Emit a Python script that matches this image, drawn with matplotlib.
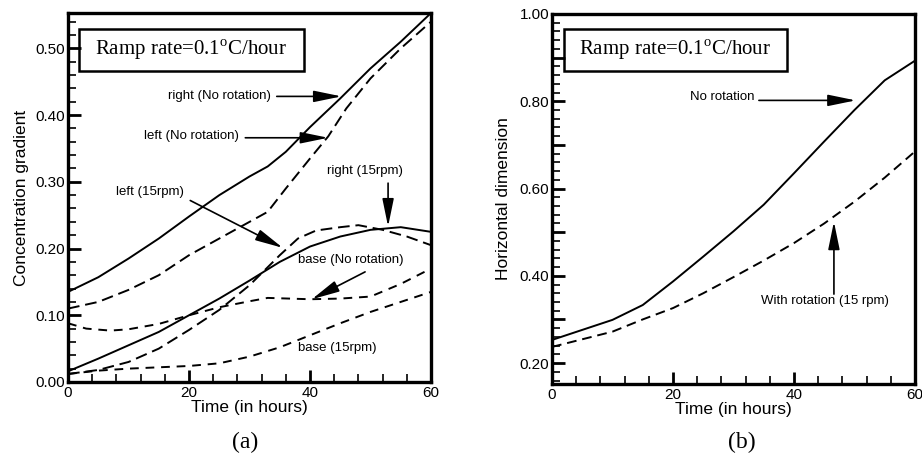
import numpy as np
import matplotlib
matplotlib.use('Agg')
import matplotlib.pyplot as plt
from matplotlib.patches import Rectangle
from matplotlib.ticker import MultipleLocator, FuncFormatter

plt.rcParams['font.family'] = ['Liberation Sans', 'DejaVu Sans']
plt.rcParams['mathtext.fontset'] = 'custom'
plt.rcParams['mathtext.rm'] = 'Liberation Serif'

# (a) concentration gradient vs time
t_right_nr = [0, 5, 10, 15, 20, 25, 30, 33, 36, 40, 45, 50, 55, 60]
c_right_nr = [0.135, 0.157, 0.185, 0.215, 0.248, 0.28, 0.308, 0.323, 0.345, 0.382, 0.425, 0.47, 0.51, 0.553]

t_left_nr = [0, 5, 10, 15, 20, 25, 30, 33, 36, 40, 43, 46, 50, 55, 60]
c_left_nr = [0.11, 0.12, 0.138, 0.16, 0.19, 0.215, 0.24, 0.255, 0.29, 0.335, 0.368, 0.41, 0.455, 0.5, 0.54]

t_right_15 = [0, 5, 10, 15, 20, 25, 30, 35, 40, 45, 50, 55, 60]
c_right_15 = [0.016, 0.035, 0.055, 0.075, 0.1, 0.125, 0.152, 0.18, 0.203, 0.218, 0.228, 0.232, 0.225]

t_left_15 = [0, 5, 10, 15, 20, 25, 30, 35, 38, 41, 45, 48, 52, 56, 60]
c_left_15 = [0.012, 0.018, 0.03, 0.05, 0.078, 0.108, 0.145, 0.19, 0.215, 0.227, 0.232, 0.235, 0.228, 0.218, 0.205]

t_base_nr = [0, 3, 7, 10, 15, 20, 25, 30, 33, 40, 45, 50, 55, 60]
c_base_nr = [0.088, 0.08, 0.077, 0.079, 0.087, 0.1, 0.112, 0.121, 0.126, 0.124, 0.125, 0.128, 0.147, 0.17]

t_base_15 = [0, 5, 10, 15, 20, 25, 30, 35, 40, 45, 50, 55, 60]
c_base_15 = [0.012, 0.017, 0.02, 0.022, 0.024, 0.028, 0.038, 0.052, 0.07, 0.088, 0.105, 0.12, 0.135]

# (b) horizontal dimension vs time
t_dim = [0, 10, 15, 20, 25, 30, 35, 40, 45, 50, 55, 60]
d_no_rot = [0.253, 0.299, 0.333, 0.387, 0.444, 0.502, 0.563, 0.635, 0.708, 0.78, 0.848, 0.893]
d_rot = [0.237, 0.272, 0.300, 0.326, 0.360, 0.397, 0.435, 0.475, 0.52, 0.57, 0.625, 0.685]

ramp_text = r'Ramp rate=0.1$^\mathrm{o}$C/hour'

fig = plt.figure(figsize=(9.22, 4.59), dpi=100)
ax1 = fig.add_axes([0.0738, 0.1678, 0.3937, 0.8039])
ax2 = fig.add_axes([0.5987, 0.1634, 0.3937, 0.8061])

lw = 1.4
arrow = dict(arrowstyle='-|>,head_length=1.7,head_width=0.35', color='black',
             lw=1.2, mutation_scale=10, shrinkA=0, shrinkB=0)


def style_axes(ax, ymin, ymax, ymajor, label_every):
    ax.set_xlim(0, 60)
    ax.set_ylim(ymin, ymax)
    ax.xaxis.set_major_locator(MultipleLocator(20))
    ax.xaxis.set_minor_locator(MultipleLocator(4))
    ax.yaxis.set_major_locator(MultipleLocator(ymajor))
    ax.yaxis.set_minor_locator(MultipleLocator(0.02))
    ax.yaxis.set_major_formatter(FuncFormatter(
        lambda v, p: f'{v:.2f}' if abs(round(v / label_every) * label_every - v) < 1e-6 else ''))
    ax.tick_params(which='both', direction='in', labelsize=11, pad=2)
    ax.tick_params(which='major', length=9, width=2)
    ax.tick_params(which='minor', length=6, width=1.2)
    ax.tick_params(axis='x', which='major', pad=3)
    for s in ax.spines.values():
        s.set_linewidth(2.4)
    ax.set_xlabel('Time (in hours)', fontsize=12.5, labelpad=0)


def ramp_box(ax, x0, y0, x1, y1):
    ax.add_patch(Rectangle((x0, y0), x1 - x0, y1 - y0, transform=ax.transAxes,
                           fill=False, lw=1.8, ec='black', zorder=5))
    ax.text((x0 + x1) / 2, (y0 + y1) / 2, ramp_text, transform=ax.transAxes,
            ha='center', va='center', fontsize=15, family='Liberation Serif', zorder=6)


# panel (a)
ax1.plot(t_right_nr, c_right_nr, color='black', lw=lw)
ax1.plot(t_left_nr, c_left_nr, color='black', lw=lw, dashes=(6, 3))
ax1.plot(t_right_15, c_right_15, color='black', lw=lw)
ax1.plot(t_left_15, c_left_15, color='black', lw=lw, dashes=(6, 3))
ax1.plot(t_base_nr, c_base_nr, color='black', lw=lw, dashes=(4.5, 3.5))
ax1.plot(t_base_15, c_base_15, color='black', lw=lw, dashes=(4.5, 3.5))
style_axes(ax1, 0, 0.553, 0.1, 0.1)
ax1.set_ylabel('Concentration gradient', fontsize=12.5, labelpad=5)
ramp_box(ax1, 0.030, 0.843, 0.650, 0.957)

fs = 9.5
ax1.text(33.6, 0.428, 'right (No rotation)', ha='right', va='center', fontsize=fs)
ax1.annotate('', xy=(45.2, 0.428), xytext=(34.5, 0.428), arrowprops=arrow)
ax1.text(28.2, 0.368, 'left (No rotation)', ha='right', va='center', fontsize=fs)
ax1.annotate('', xy=(43.0, 0.366), xytext=(29.3, 0.366), arrowprops=arrow)
ax1.text(8.0, 0.285, 'left (15rpm)', ha='left', va='center', fontsize=fs)
ax1.annotate('', xy=(35.5, 0.201), xytext=(20.2, 0.272), arrowprops=arrow)
ax1.text(49.0, 0.316, 'right (15rpm)', ha='center', va='center', fontsize=fs)
ax1.annotate('', xy=(52.9, 0.233), xytext=(52.9, 0.298), arrowprops=arrow)
ax1.text(38.0, 0.183, 'base (No rotation)', ha='left', va='center', fontsize=fs)
ax1.annotate('', xy=(40.3, 0.124), xytext=(49.1, 0.165), arrowprops=arrow)
ax1.text(38.0, 0.051, 'base (15rpm)', ha='left', va='center', fontsize=fs)

# panel (b)
ax2.plot(t_dim, d_no_rot, color='black', lw=lw)
ax2.plot(t_dim, d_rot, color='black', lw=lw, dashes=(5, 3))
style_axes(ax2, 0.152, 1.0, 0.1, 0.2)
ax2.set_ylabel('Horizontal dimension', fontsize=12.5, labelpad=6)
ramp_box(ax2, 0.032, 0.846, 0.647, 0.959)

ax2.text(33.4, 0.809, 'No rotation', ha='right', va='center', fontsize=fs)
ax2.annotate('', xy=(50.2, 0.802), xytext=(34.2, 0.802), arrowprops=arrow)
ax2.text(45.1, 0.343, 'With rotation (15 rpm)', ha='center', va='center', fontsize=fs)
ax2.annotate('', xy=(46.6, 0.524), xytext=(46.6, 0.358), arrowprops=arrow)

fig.text(0.2657, 0.037, '(a)', ha='center', va='center', fontsize=17, family='Liberation Serif')
fig.text(0.805, 0.035, '(b)', ha='center', va='center', fontsize=17, family='Liberation Serif')

fig.savefig('out.png', dpi=100)
